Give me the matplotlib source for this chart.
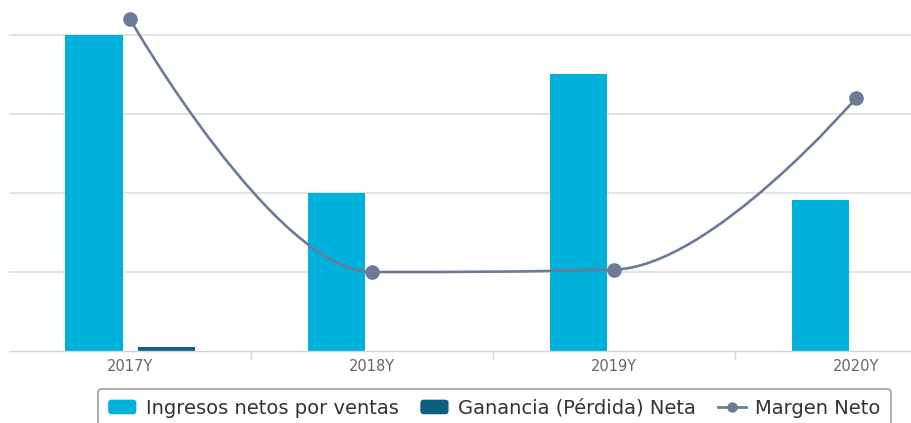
import numpy as np
import matplotlib
matplotlib.use("Agg")
import matplotlib.pyplot as plt
from matplotlib.path import Path
from matplotlib.patches import PathPatch, FancyBboxPatch, Patch
from matplotlib.lines import Line2D
from matplotlib.legend_handler import HandlerPatch

years = ["2017Y", "2018Y", "2019Y", "2020Y"]
ingresos = [4.0, 2.0, 3.5, 1.91]
ganancia = [0.05, 0.0, 0.0, 0.0]
margen = [4.20, 1.0, 1.03, 3.20]

C_ING = "#00b1dc"
C_GAN = "#0d5f82"
C_MAR = "#6b7b97"


def spline_path(xs, ys, smoothing=1.5):
    # highcharts-like spline: cubic bezier through the points
    denom = smoothing + 1
    n = len(xs)
    left = [None] * n
    right = [None] * n
    for i in range(1, n - 1):
        px, py = xs[i], ys[i]
        lx, ly = xs[i - 1], ys[i - 1]
        nx, ny = xs[i + 1], ys[i + 1]
        lcx = (smoothing * px + lx) / denom
        lcy = (smoothing * py + ly) / denom
        rcx = (smoothing * px + nx) / denom
        rcy = (smoothing * py + ny) / denom
        if rcx != lcx:
            corr = (rcy - lcy) * (rcx - px) / (rcx - lcx) + py - rcy
            lcy += corr
            rcy += corr
        if lcy > ly and lcy > py:
            lcy = max(ly, py); rcy = 2 * py - lcy
        elif lcy < ly and lcy < py:
            lcy = min(ly, py); rcy = 2 * py - lcy
        if rcy > ny and rcy > py:
            rcy = max(ny, py); lcy = 2 * py - rcy
        elif rcy < ny and rcy < py:
            rcy = min(ny, py); lcy = 2 * py - rcy
        left[i] = (lcx, lcy)
        right[i] = (rcx, rcy)
    verts = [(xs[0], ys[0])]
    codes = [Path.MOVETO]
    for i in range(1, n):
        c1 = right[i - 1] or (xs[i - 1], ys[i - 1])
        c2 = left[i] or (xs[i], ys[i])
        verts += [c1, c2, (xs[i], ys[i])]
        codes += [Path.CURVE4] * 3
    return Path(verts, codes)


class RoundSwatch(HandlerPatch):
    def create_artists(self, legend, orig_handle, xdescent, ydescent,
                       width, height, fontsize, trans):
        r = 2.5
        p = FancyBboxPatch((-xdescent + r, -ydescent + r), width - 2 * r, height - 2 * r,
                           boxstyle=f"round,pad={r}", fc=orig_handle.get_facecolor(),
                           ec="none", transform=trans)
        return [p]


W, H = 911, 423
fig = plt.figure(figsize=(W / 100, H / 100), dpi=100)
ax = fig.add_axes([9 / W, 72 / H, 902 / W, 351 / H])

x = np.arange(len(years))
bw = 57 / 242
off = 36 / 242
ax.bar(x - off, ingresos, bw, color=C_ING, zorder=2)
ax.bar(x + off, ganancia, bw, color=C_GAN, zorder=2)

ax.add_patch(PathPatch(spline_path(list(x), margen), fill=False, ec=C_MAR,
                       lw=1.9, zorder=3, clip_on=False, capstyle="round"))
ax.plot(x, margen, "o", color=C_MAR, ms=9.5, zorder=4, clip_on=False)

ax.set_xlim(-0.5, -0.5 + 902 / 242)
ax.set_ylim(0, 351 / 79)
ax.set_yticks([1, 2, 3, 4])
ax.yaxis.grid(True, color="#dadada", lw=1.1)
ax.set_axisbelow(True)
ax.tick_params(axis="y", length=0, labelleft=False)

ax.set_xticks(x)
ax.set_xticklabels(years, fontsize=10.5, color="#666666")
ax.set_xticks([0.5, 1.5, 2.5], minor=True)
ax.tick_params(axis="x", which="major", length=0, pad=6)
ax.tick_params(axis="x", which="minor", length=6.5, width=1, color="#ccd6eb")

for s in ["top", "right", "left"]:
    ax.spines[s].set_visible(False)
ax.spines["bottom"].set_color("#ccd6eb")
ax.spines["bottom"].set_linewidth(1)

handles = [Patch(facecolor=C_ING), Patch(facecolor=C_GAN),
           Line2D([], [], color=C_MAR, lw=2, marker="o", ms=6.5)]
labels = ["Ingresos netos por ventas", "Ganancia (Pérdida) Neta", "Margen Neto"]
leg = fig.legend(handles, labels, loc="upper center", ncol=3,
                 bbox_to_anchor=(494.5 / W, (H - 389) / H), borderaxespad=0,
                 fontsize=14, handlelength=1.45, handleheight=0.78,
                 handletextpad=0.5, columnspacing=1.1, borderpad=0.5,
                 frameon=True, fancybox=True, edgecolor="#a0a0a0",
                 framealpha=1, labelcolor="#333333",
                 handler_map={Patch: RoundSwatch()})
leg.get_frame().set_linewidth(1.2)

fig.savefig("out.png", dpi=100)
